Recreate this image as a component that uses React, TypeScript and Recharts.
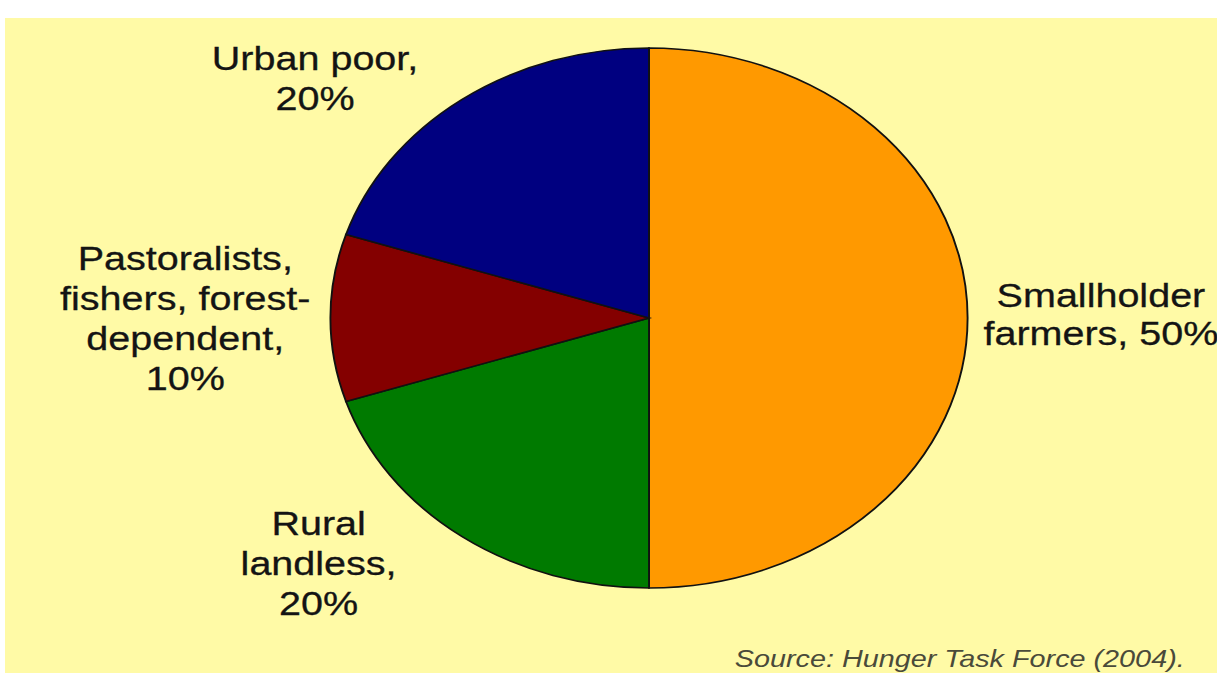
import React from "react";
import { PieChart, Pie, Cell } from "recharts";

const categories = ["Smallholder farmers", "Rural landless", "Pastoralists, fishers, forest-dependent", "Urban poor"];
const shares = [50, 20, 10, 20];
const labelLines = [
  ["Smallholder", "farmers, 50%"],
  ["Rural", "landless,", "20%"],
  ["Pastoralists,", "fishers, forest-", "dependent,", "10%"],
  ["Urban poor,", "20%"],
];
const colors = ["#FF9900", "#007A00", "#840000", "#000080"];
const sourceText = "Source: Hunger Task Force (2004).";

const data = categories.map((name, i) => ({ name, value: shares[i] }));

// label anchor offsets relative to pie centre (layout only)
const LABEL_LAYOUT = [
  { dx: 383, dy: [-11, 27] },
  { dx: -280, dy: [217, 257, 297] },
  { dx: -393, dy: [-48, -8, 32, 72] },
  { dx: -283, dy: [-248, -208] },
];

const STRETCH = 1.18;
const FONT = "'Liberation Sans', Arial, Helvetica, sans-serif";

const renderLabel = (props: any) => {
  const { cx, cy, index } = props;
  const lay = LABEL_LAYOUT[index];
  return (
    <g key={`lbl-${index}`}>
      {labelLines[index].map((line, j) => (
        <text
          key={j}
          x={cx + lay.dx}
          y={cy + lay.dy[j]}
          textAnchor="middle"
          fill="#141414"
          stroke="#141414"
          strokeWidth={0.3}
          fontFamily={FONT}
          fontSize={33.5}
        >
          {line}
        </text>
      ))}
    </g>
  );
};

export default function App() {
  return (
    <div style={{ position: "absolute", left: 0, top: 0, width: 1217, height: 673, background: "#ffffff", overflow: "hidden" }}>
      <div style={{ position: "absolute", left: 5, top: 18, right: 0, bottom: 0, background: "#FFFAA6" }} />
      <div style={{ position: "absolute", left: 0, top: 0, transform: `scaleX(${STRETCH})`, transformOrigin: "0 0" }}>
        <PieChart width={1032} height={673} margin={{ top: 0, right: 0, bottom: 0, left: 0 }}>
          <Pie
            data={data}
            dataKey="value"
            nameKey="name"
            cx={550}
            cy={318}
            outerRadius={270}
            startAngle={90}
            endAngle={-270}
            stroke="#111111"
            strokeWidth={1.6}
            isAnimationActive={false}
            label={renderLabel}
            labelLine={false}
          >
            {data.map((d, i) => (
              <Cell key={d.name} fill={colors[i]} />
            ))}
          </Pie>
        </PieChart>
        <svg width={1032} height={673} style={{ position: "absolute", left: 0, top: 0, pointerEvents: "none" }}>
          <text x={1004} y={667} textAnchor="end" fill="#4a4a3a" fontFamily={FONT} fontStyle="italic" fontSize={24.4}>
            {sourceText}
          </text>
        </svg>
      </div>
    </div>
  );
}
